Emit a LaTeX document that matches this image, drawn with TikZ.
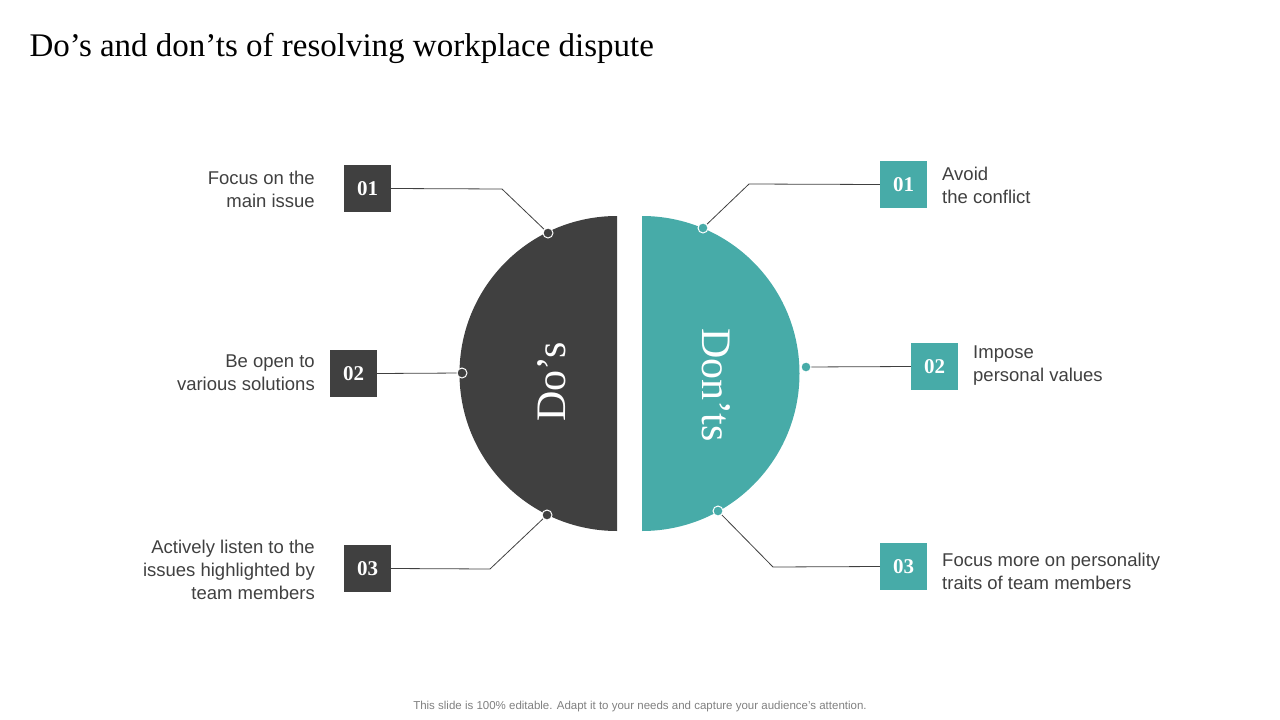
\documentclass[tikz,border=0pt]{standalone}
\usepackage{fontspec}
\setmainfont{Liberation Serif}
\setsansfont{Liberation Sans}
\definecolor{dk}{HTML}{404040}
\definecolor{tl}{HTML}{47ABA8}
\definecolor{tx}{HTML}{404040}
\begin{document}
\begin{tikzpicture}[x=1pt,y=-1pt,
 numbox/.style={minimum width=47pt,minimum height=47pt,inner sep=0pt,text=white,font=\fontsize{21}{21}\selectfont\bfseries},
 lbl/.style={font=\sffamily\fontsize{18.5}{23}\selectfont,text=tx,inner sep=0pt},
 ln/.style={draw=dk,line width=0.8pt},
 dotd/.style={circle,draw=white,fill=dk,line width=1pt,minimum size=10pt,inner sep=0pt},
 dott/.style={circle,draw=white,fill=tl,line width=1pt,minimum size=10pt,inner sep=0pt}]
\useasboundingbox (0,0) rectangle (1280,720);
\node[anchor=west,font=\fontsize{33}{33}\selectfont,text=black] (title) at (26,48) {Do’s and don’ts of resolving workplace dispute};
% halves
\fill[dk] (617,216) arc[start angle=-90,end angle=-270,radius=157.5] -- cycle;
\fill[tl] (642,216) arc[start angle=-90,end angle=90,radius=157.5] -- cycle;
\node[rotate=90,text=white,font=\fontsize{42}{42}\selectfont] (dos) at (552,382) {Do’s};
\node[rotate=-90,text=white,font=\fontsize{42}{42}\selectfont] (donts) at (716,385) {Don’ts};
% boxes
\node[numbox,fill=dk] (l1) at (367.5,188.5) {01};
\node[numbox,fill=dk] (l2) at (353.5,373.5) {02};
\node[numbox,fill=dk] (l3) at (367.5,568.5) {03};
\node[numbox,fill=tl] (r1) at (903.5,184.5) {01};
\node[numbox,fill=tl] (r2) at (934.5,366.5) {02};
\node[numbox,fill=tl] (r3) at (903.5,566.5) {03};
% dots
\coordinate (dl1) at (548,233);
\coordinate (dl2) at (462,373);
\coordinate (dl3) at (547,515);
\coordinate (dr1) at (703,228);
\coordinate (dr2) at (806,367);
\coordinate (dr3) at (718,511);
\coordinate (kl1) at (502,189);
\coordinate (kl3) at (490,569);
\coordinate (kr1) at (749,184);
\coordinate (kr3) at (773,567);
\draw[ln] (l1.east) -- (kl1) -- (dl1);
\draw[ln] (l2.east) -- (dl2);
\draw[ln] (l3.east) -- (kl3) -- (dl3);
\draw[ln] (r1.west) -- (kr1) -- (dr1);
\draw[ln] (r2.west) -- (dr2);
\draw[ln] (r3.west) -- (kr3) -- (dr3);
\node[dotd] (pl1) at (dl1) {};\node[dotd] (pl2) at (dl2) {};\node[dotd] (pl3) at (dl3) {};
\node[dott] (pr1) at (dr1) {};\node[dott] (pr2) at (dr2) {};\node[dott] (pr3) at (dr3) {};
% labels
\node[lbl,anchor=east,align=right] (t1) at (315,189) {Focus on the\\main issue};
\node[lbl,anchor=east,align=right] (t2) at (315,373) {Be open to\\various solutions};
\node[lbl,anchor=east,align=right] (t3) at (315,570) {Actively listen to the\\issues highlighted by\\team members};
\node[lbl,anchor=west,align=left] (u1) at (942,185) {Avoid\\the conflict};
\node[lbl,anchor=west,align=left] (u2) at (973,366) {Impose\\personal values};
\node[lbl,anchor=west,align=left] (u3) at (942,571) {Focus more on personality\\traits of team members};
\node[font=\sffamily\fontsize{11.5}{11.5}\selectfont,text=gray] (foot) at (640,707) {This slide is 100\% editable. Adapt it to your needs and capture your audience's attention.};
\end{tikzpicture}
\end{document}
